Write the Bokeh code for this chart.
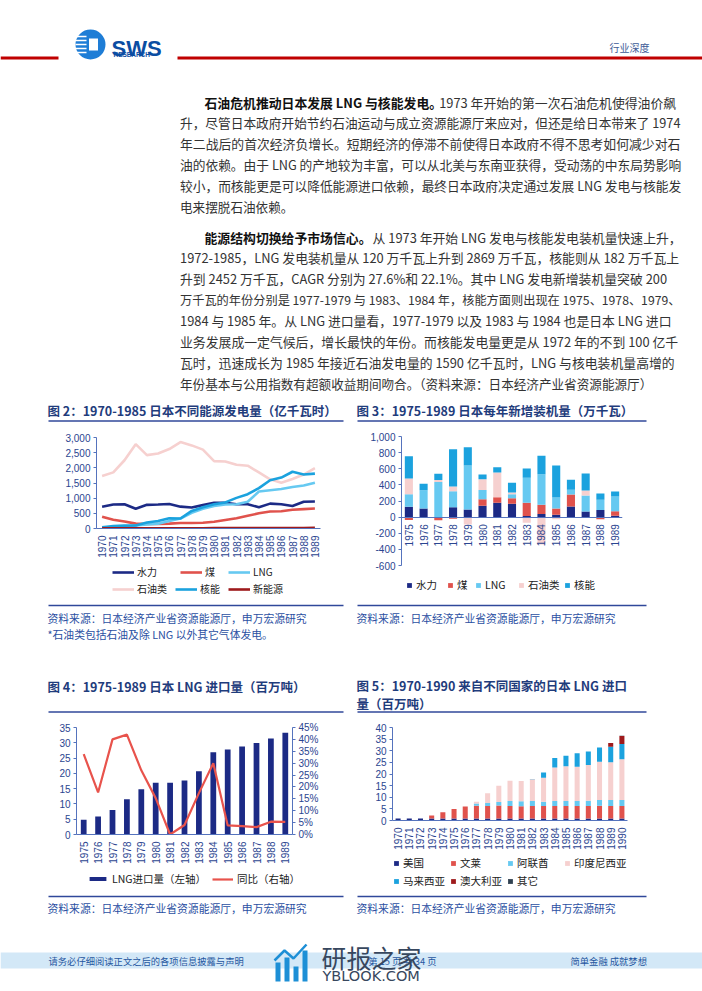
import math
from bokeh.plotting import figure
from bokeh.models import (Range1d, FactorRange, LinearAxis, Legend, LegendItem, Plot,
                          NumeralTickFormatter, SingleIntervalTicker, ColumnDataSource)
from bokeh.layouts import column, row
from bokeh.core.properties import value
from bokeh.embed import file_html
from bokeh.resources import INLINE

CJK = "Noto Sans CJK SC"
NUM = "Liberation Sans"

# ---------------- data ----------------
# Fig 2: generation by source (100 million kWh)
years_a = ["1970", "1971", "1972", "1973", "1974", "1975", "1976", "1977", "1978", "1979",
           "1980", "1981", "1982", "1983", "1984", "1985", "1986", "1987", "1988", "1989"]
gen_hydro = [720, 790, 800, 650, 780, 790, 810, 720, 690, 770, 850, 850, 800, 800, 700, 820, 800, 740, 880, 890]
gen_coal = [390, 290, 230, 160, 150, 150, 160, 180, 180, 190, 220, 280, 340, 420, 500, 560, 570, 620, 640, 660]
gen_lng = [20, 40, 60, 100, 130, 160, 250, 330, 520, 650, 740, 790, 800, 880, 1220, 1260, 1300, 1370, 1420, 1510]
gen_oil = [1730, 1850, 2250, 2780, 2420, 2470, 2620, 2850, 2740, 2600, 2220, 2210, 2100, 2070, 1850, 1620, 1510, 1630, 1780, 1990]
gen_nuclear = [40, 80, 95, 100, 200, 250, 340, 330, 580, 700, 800, 860, 1010, 1130, 1330, 1590, 1680, 1870, 1780, 1810]
gen_new = [5, 5, 6, 6, 7, 8, 8, 9, 10, 10, 11, 12, 12, 13, 14, 15, 16, 17, 18, 20]
gen_names = ["水力", "煤", "LNG", "石油类", "核能", "新能源"]

# Fig 3: new installed capacity per year (10 MW)
years_b = ["1975", "1976", "1977", "1978", "1979", "1980", "1981", "1982",
           "1983", "1984", "1985", "1986", "1987", "1988", "1989"]
cap_hydro = [128, 107, 0, 124, 95, 140, 178, 165, 15, 40, 30, 132, 70, 87, 17]
cap_coal = [-35, 0, -40, -20, 0, 83, 70, 70, 163, 113, 77, 149, -10, -25, 57]
cap_lng = [155, 225, 435, 198, 545, 112, 0, 50, 310, 380, 137, 58, 199, 128, 182]
cap_oil = [195, 0, 25, 58, -90, 136, 305, 20, -70, -340, -25, 0, 61, 0, 0]
cap_nuclear = [277, 83, 77, 463, 228, 58, 67, 120, 115, 227, 396, 124, 211, 78, 62]
cap_names = ["水力", "煤", "LNG", "石油类", "核能"]

# Fig 4: LNG imports (million t) and YoY
lng_import = [4.8, 5.85, 8.0, 11.5, 14.8, 16.9, 16.9, 17.7, 20.7, 26.9, 27.8, 28.8, 29.9, 31.4, 33.3]
lng_yoy = [0.338, 0.177, 0.40, 0.42, 0.27, 0.153, 0.0, 0.04, 0.174, 0.30, 0.038, 0.035, 0.031, 0.054, 0.053]

# Fig 5: LNG imports by origin (million t)
years_c = ["1970", "1971", "1972", "1973", "1974", "1975", "1976", "1977", "1978", "1979", "1980",
           "1981", "1982", "1983", "1984", "1985", "1986", "1987", "1988", "1989", "1990"]
imp_usa = [0.9, 0.9, 0.9, 0.9, 0.9, 0.9, 0.9, 0.9, 0.9, 0.9, 0.9, 0.9, 0.9, 0.9, 0.9, 0.9, 0.9, 0.9, 0.9, 0.9, 0.9]
imp_brunei = [0, 0, 0, 1.3, 2.7, 4.1, 5.1, 5.4, 5.3, 5.5, 5.3, 5.2, 5.3, 5.3, 5.3, 5.3, 5.3, 5.3, 5.4, 5.3, 5.3]
imp_uae = [0, 0, 0, 0, 0, 0, 0, 1.0, 1.3, 1.6, 2.2, 2.2, 2.2, 1.9, 2.2, 2.2, 2.2, 2.3, 2.5, 2.6, 2.6]
imp_indonesia = [0, 0, 0, 0, 0, 0, 0, 0.8, 4.2, 7.0, 8.7, 8.7, 9.3, 10.3, 14.4, 14.9, 14.7, 15.4, 16.5, 16.3, 17.5]
imp_malaysia = [0, 0, 0, 0, 0, 0, 0, 0, 0, 0, 0, 0, 0.2, 2.2, 4.1, 4.6, 5.8, 5.8, 6.1, 6.6, 6.6]
imp_australia = [0, 0, 0, 0, 0, 0, 0, 0, 0, 0, 0, 0, 0, 0, 0, 0, 0, 0, 0, 1.6, 3.4]
imp_other = [0, 0, 0, 0, 0, 0, 0, 0, 0, 0, 0, 0, 0, 0, 0, 0, 0, 0, 0, 0, 0.1]
imp_names = ["美国", "文莱", "阿联酋", "印度尼西亚", "马来西亚", "澳大利亚", "其它"]

# ---------------- styles ----------------
C_NAVY = "#1c2a85"
C_RED = "#e0524c"
C_LBLUE = "#66c9f1"
C_PINK = "#f6d0cf"
C_BLUE = "#1ba2de"
C_DRED = "#9e1a1c"
C_SLATE = "#2f4050"
TITLE_C = "#1f3c7c"
RULE_C = "#30489a"
SRC_C = "#2b50a2"
AX_C = "#5573bd"
LAB_C = "#2b4590"
TXT_C = "#333333"

HAS_FA = "frame_align" in Plot.properties()


def no_align(f):
    if HAS_FA:
        f.frame_align = False
    return f


def canvas(w, h, x0, ytop, bl_above=0):
    f = figure(width=w, height=h, x_range=Range1d(x0, x0 + w), y_range=Range1d(ytop + h, ytop),
               output_backend="svg", toolbar_location=None, x_axis_type=None, y_axis_type=None,
               min_border_left=0, min_border_right=0, min_border_top=0, min_border_bottom=0)
    f.outline_line_color = None
    f.grid.visible = False
    f.background_fill_color = "white"
    f.border_fill_color = "white"
    no_align(f)
    f._x0 = x0 + (0 if HAS_FA else bl_above)
    f._ybot = ytop + h
    return f


def txt(f, x, y, s, size, color, font=CJK, bold=False, align="left", baseline="middle"):
    f.text(x=[x], y=[y], text=[s], text_font=value(font), text_font_size=value(f"{size:.2f}px"),
           text_color=color, text_font_style="bold" if bold else "normal",
           text_align=align, text_baseline=baseline)


def rule(f, x0, x1, y, color=RULE_C, w=1.5):
    f.segment(x0=[x0], y0=[y], x1=[x1], y1=[y], line_color=color, line_width=w)


def plot_fig(w, h, xr, yr, bl, br, bt, bb):
    p = figure(width=w, height=h, x_range=xr, y_range=yr, output_backend="svg",
               toolbar_location=None, min_border_left=bl, min_border_right=br,
               min_border_top=bt, min_border_bottom=bb)
    p.outline_line_color = None
    p.grid.visible = False
    no_align(p)
    return p


def style_axis(ax, size="10px"):
    ax.axis_line_color = AX_C
    ax.axis_line_width = 1
    ax.major_tick_line_color = AX_C
    ax.minor_tick_line_color = None
    ax.major_tick_out = 3
    ax.major_tick_in = 0
    ax.major_label_text_font = NUM
    ax.major_label_text_font_size = size
    ax.major_label_text_color = LAB_C
    ax.major_label_standoff = 3


def style_xcat(ax):
    style_axis(ax)
    ax.major_tick_line_color = None
    ax.major_label_orientation = math.pi / 2
    ax.major_label_standoff = 4


def legend_entry(f, sx, cy, label, renderer, gw, gh, lh=14, size="10.5px", standoff=4):
    loc = (sx - f._x0, f._ybot - cy - lh / 2)
    lg = Legend(items=[LegendItem(label=label, renderers=[renderer])], location=loc,
                orientation="horizontal", glyph_width=gw, glyph_height=gh, label_height=lh,
                label_standoff=standoff, padding=0, margin=0, spacing=0,
                border_line_color=None, background_fill_alpha=0,
                label_text_font=CJK, label_text_font_size=size, label_text_color="#222222")
    f.add_layout(lg)


NAN = float("nan")


def em_width(s, bold=False):
    w = 0.0
    for ch in s:
        o = ord(ch)
        if o >= 0x2E80:
            w += 1.0
        elif ch == " ":
            w += 0.224
        elif ch.isdigit():
            w += 0.555
        elif ch == "-":
            w += 0.343
        elif ch in ".,":
            w += 0.276
        elif ch == "%":
            w += 0.89
        elif ch in "LJ":
            w += 0.5
        elif ch.isupper():
            w += 0.62 if bold else 0.68
        else:
            w += 0.55
    return w


# ---------------- page top: header + text ----------------
top = canvas(702, 398, 0, 0)
rule(top, 0, 58, 57.5, "#c00000", 3)
rule(top, 177, 702, 57.5, "#c00000", 3)
top.circle(x=[90], y=[44], radius=15, fill_color="#1e7dd6", line_color=None)
for yy in [36, 40, 44, 48, 52]:
    rule(top, 75, 86, yy, "white", 1.6)
top.rect(x=[93], y=[44], width=9, height=12, fill_color="white", line_color=None)
txt(top, 111, 47.5, "SWS", 22, "#0b4da2", NUM, True, baseline="alphabetic")
txt(top, 113, 53.5, "RESEARCH", 6.5, "#0b4da2", NUM, True)
txt(top, 609, 47, "行业深度", 10, "#3c5a96")

LEFT, RIGHT, INDENT = 179.5, 680.0, 204.0
FMAX = 12.85
LH = 20.9
p1_head = ("石油危机推动日本发展 LNG 与核能发电。", "1973 年开始的第一次石油危机使得油价飙")
p1_lines = [
    "升，尽管日本政府开始节约石油运动与成立资源能源厅来应对，但还是给日本带来了 1974",
    "年二战后的首次经济负增长。短期经济的停滞不前使得日本政府不得不思考如何减少对石",
    "油的依赖。由于 LNG 的产地较为丰富，可以从北美与东南亚获得，受动荡的中东局势影响",
    "较小，而核能更是可以降低能源进口依赖，最终日本政府决定通过发展 LNG 发电与核能发",
    "电来摆脱石油依赖。",
]
p2_head = ("能源结构切换给予市场信心。", "从 1973 年开始 LNG 发电与核能发电装机量快速上升，")
p2_lines = [
    "1972-1985，LNG 发电装机量从 120 万千瓦上升到 2869 万千瓦，核能则从 182 万千瓦上",
    "升到 2452 万千瓦，CAGR 分别为 27.6%和 22.1%。其中 LNG 发电新增装机量突破 200",
    "万千瓦的年份分别是 1977-1979 与 1983、1984 年，核能方面则出现在 1975、1978、1979、",
    "1984 与 1985 年。从 LNG 进口量看，1977-1979 以及 1983 与 1984 也是日本 LNG 进口",
    "业务发展成一定气候后，增长最快的年份。而核能发电量更是从 1972 年的不到 100 亿千",
    "瓦时，迅速成长为 1985 年接近石油发电量的 1590 亿千瓦时，LNG 与核电装机量高增的",
    "年份基本与公用指数有超额收益期间吻合。（资料来源：日本经济产业省资源能源厅）",
]


def paragraph(f, head, lines, y0):
    eb, er = em_width(head[0], True), em_width(head[1])
    fs = min(FMAX, (RIGHT - INDENT) / (eb + er))
    txt(f, INDENT, y0, head[0], fs, "#111111", bold=True)
    txt(f, INDENT + eb * fs + 1.0, y0, head[1], fs, TXT_C)
    xs, ys, ts, ss = [], [], [], []
    for i, s in enumerate(lines):
        last = i == len(lines) - 1
        fs = 12.6 if last else min(FMAX, (RIGHT - LEFT) / em_width(s))
        xs.append(LEFT); ys.append(y0 + LH * (i + 1)); ts.append(s); ss.append(f"{fs:.2f}px")
    src = ColumnDataSource(dict(x=xs, y=ys, t=ts, s=ss))
    f.text(x="x", y="y", text="t", text_font_size="s", source=src, text_font=value(CJK),
           text_color=TXT_C, text_baseline="middle")


paragraph(top, p1_head, p1_lines, 101.5)
paragraph(top, p2_head, p2_lines, 236.5)

# ---------------- chart titles row 1 ----------------
headB = canvas(702, 30, 0, 398)
txt(headB, 47, 410, "图 2：1970-1985 日本不同能源发电量（亿千瓦时）", 12.5, TITLE_C, bold=True)
txt(headB, 356, 410, "图 3：1975-1989 日本每年新增装机量（万千瓦）", 12.5, TITLE_C, bold=True)
rule(headB, 48, 343, 420.5)
rule(headB, 357, 646, 420.5)

# ---------------- chart 2 ----------------
BL2, BL3, BL4, BL5 = 96, 54, 76, 45
p2 = plot_fig(347, 134, FactorRange(factors=years_a), Range1d(0, 3000), BL2, 27, 9, 34)
style_axis(p2.yaxis[0])
p2.yaxis[0].ticker = SingleIntervalTicker(interval=500, num_minor_ticks=0)
p2.yaxis[0].formatter = NumeralTickFormatter(format="0,0")
style_xcat(p2.xaxis[0])
src2 = ColumnDataSource(dict(x=years_a, hydro=gen_hydro, coal=gen_coal, lng=gen_lng,
                             oil=gen_oil, nuc=gen_nuclear, new=gen_new))
colors2 = [C_NAVY, C_RED, C_LBLUE, C_PINK, C_BLUE, C_DRED]
for col, c in zip(["hydro", "coal", "lng", "oil", "nuc", "new"], colors2):
    p2.line("x", col, source=src2, line_color=c, line_width=2.6)

lg2 = canvas(347, 38, 0, 562, BL2)
pos2 = [(112, 572), (180, 572), (228, 572), (112, 589), (175, 589), (228, 589)]
for n, c, (sx, cy) in zip(gen_names, colors2, pos2):
    rr = lg2.line(x=[NAN], y=[NAN], line_color=c, line_width=2.6)
    legend_entry(lg2, sx, cy, n, rr, 22, 14, size="10px", standoff=3)

# ---------------- chart 3 ----------------
def split_stack(series):
    n = len(series[0])
    pos = [0.0] * n
    neg = [0.0] * n
    out = []
    for s in series:
        b, t = [], []
        for i, v in enumerate(s):
            if v >= 0:
                b.append(pos[i]); t.append(pos[i] + v); pos[i] += v
            else:
                b.append(neg[i]); t.append(neg[i] + v); neg[i] += v
        out.append((b, t))
    return out


p3 = plot_fig(355, 142, FactorRange(factors=years_b), Range1d(-600, 1000), BL3, 80, 8, 5)
style_axis(p3.yaxis[0])
p3.yaxis[0].ticker = SingleIntervalTicker(interval=200, num_minor_ticks=0)
p3.yaxis[0].formatter = NumeralTickFormatter(format="0,0")
style_xcat(p3.xaxis[0])
p3.xaxis[0].fixed_location = 0
colors3 = [C_NAVY, C_RED, C_LBLUE, C_PINK, C_BLUE]
for (b, t), c in zip(split_stack([cap_hydro, cap_coal, cap_lng, cap_oil, cap_nuclear]), colors3):
    p3.vbar(x=years_b, bottom=b, top=t, width=0.55, fill_color=c, line_color=None)

lg3 = canvas(355, 30, 347, 570, BL3)
pos3 = [(406, 585), (447, 585), (475, 585), (518, 585), (564, 585)]
for n, c, (sx, cy) in zip(cap_names, colors3, pos3):
    rr = lg3.vbar(x=[NAN], top=[NAN], width=1, fill_color=c, line_color=None)
    legend_entry(lg3, sx, cy, n, rr, 6, 6)

# ---------------- source row 1 ----------------
footB = canvas(702, 60, 0, 600)
rule(footB, 48, 343, 605)
rule(footB, 357, 646, 605)
txt(footB, 47, 617, "资料来源：日本经济产业省资源能源厅，申万宏源研究", 10.8, SRC_C)
txt(footB, 47, 633, "*石油类包括石油及除 LNG 以外其它气体发电。", 10.8, SRC_C)
txt(footB, 356, 617, "资料来源：日本经济产业省资源能源厅，申万宏源研究", 10.8, SRC_C)

# ---------------- chart titles row 2 ----------------
headC = canvas(702, 58, 0, 660)
txt(headC, 47, 686, "图 4：1975-1989 日本 LNG 进口量（百万吨）", 12.5, TITLE_C, bold=True)
txt(headC, 356, 685, "图 5：1970-1990 来自不同国家的日本 LNG 进口", 12.5, TITLE_C, bold=True)
txt(headC, 356, 703, "量（百万吨）", 12.5, TITLE_C, bold=True)
rule(headC, 48, 343, 711.5)
rule(headC, 357, 646, 711.5)

# ---------------- chart 4 ----------------
p4 = plot_fig(347, 148, FactorRange(factors=years_b), Range1d(0, 35), BL4, 55, 9, 31)
style_axis(p4.yaxis[0])
p4.yaxis[0].ticker = SingleIntervalTicker(interval=5, num_minor_ticks=0)
style_xcat(p4.xaxis[0])
p4.extra_y_ranges = {"pct": Range1d(0, 0.45)}
ax_r = LinearAxis(y_range_name="pct", ticker=SingleIntervalTicker(interval=0.05, num_minor_ticks=0),
                  formatter=NumeralTickFormatter(format="0%"))
style_axis(ax_r)
p4.add_layout(ax_r, "right")
p4.vbar(x=years_b, top=lng_import, width=0.4, fill_color=C_NAVY, line_color=None)
p4.line(x=years_b, y=lng_yoy, y_range_name="pct", line_color="#e8534c", line_width=2.2)

lg4 = canvas(347, 26, 0, 866, BL4)
rb = lg4.vbar(x=[NAN], top=[NAN], width=1, fill_color=C_NAVY, line_color=None)
rl = lg4.line(x=[NAN], y=[NAN], line_color="#e8534c", line_width=2.2)
legend_entry(lg4, 87, 879, "LNG进口量（左轴）", rb, 21, 5)
legend_entry(lg4, 212, 879, "同比（右轴）", rl, 21, 14)

# ---------------- chart 5 ----------------
p5 = plot_fig(355, 135, FactorRange(factors=years_c), Range1d(0, 40), BL5, 75, 9, 33)
style_axis(p5.yaxis[0])
p5.yaxis[0].ticker = SingleIntervalTicker(interval=5, num_minor_ticks=0)
style_xcat(p5.xaxis[0])
src5 = ColumnDataSource(dict(x=years_c, usa=imp_usa, bru=imp_brunei, uae=imp_uae, ind=imp_indonesia,
                             mal=imp_malaysia, aus=imp_australia, oth=imp_other))
colors5 = [C_NAVY, C_RED, C_LBLUE, C_PINK, C_BLUE, C_DRED, C_SLATE]
p5.vbar_stack(["usa", "bru", "uae", "ind", "mal", "aus", "oth"], x="x", source=src5, width=0.45,
              color=colors5, line_color=None)

lg5 = canvas(355, 39, 347, 853, BL5)
pos5 = [(393, 863), (450, 863), (507, 863), (564, 863), (393, 881), (450, 881), (507, 881)]
for n, c, (sx, cy) in zip(imp_names, colors5, pos5):
    rr = lg5.vbar(x=[NAN], top=[NAN], width=1, fill_color=c, line_color=None)
    legend_entry(lg5, sx, cy, n, rr, 6, 6)

# ---------------- source row 2 ----------------
footC = canvas(702, 48, 0, 892)
rule(footC, 48, 343, 896)
rule(footC, 357, 646, 896)
txt(footC, 47, 907, "资料来源：日本经济产业省资源能源厅，申万宏源研究", 10.8, SRC_C)
txt(footC, 356, 907, "资料来源：日本经济产业省资源能源厅，申万宏源研究", 10.8, SRC_C)

# ---------------- page footer ----------------
pf = canvas(702, 50, 0, 940)
pf.quad(left=[0], right=[702], top=[952], bottom=[968], fill_color="#d3e8f7", line_color=None)
txt(pf, 48, 960.5, "请务必仔细阅读正文之后的各项信息披露与声明", 9.3, "#1f56a0")
txt(pf, 436, 960.5, "第 15 页 共 34 页", 9.3, "#1f56a0", align="right")
txt(pf, 570, 960.5, "简单金融 成就梦想", 9.3, "#1f56a0")
# watermark
pf.quad(left=[275, 284, 293, 302], right=[280, 289, 298, 307], top=[962, 957, 966, 950],
        bottom=[981, 981, 981, 981], fill_color="#1d8fd6", line_color=None)
pf.line(x=[274, 284, 293, 306], y=[960, 950, 958, 944], line_color="#1d8fd6", line_width=2.5)
txt(pf, 321, 956, "研报之家", 25, "#37475e")
txt(pf, 322, 975, "YBLOOK.COM", 14.5, "#37475e", font="DejaVu Sans")

layout = column(top, headB,
                row(column(p2, lg2), column(p3, lg3)),
                footB, headC,
                row(column(p4, lg4), column(p5, lg5)),
                footC, pf)

with open("out.html", "w") as fh:
    fh.write(file_html(layout, INLINE))
